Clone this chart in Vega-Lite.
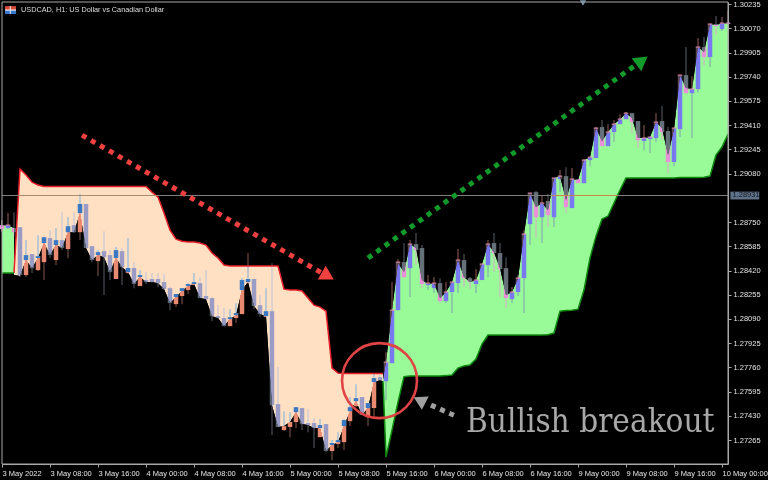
{"$schema":"https://vega.github.io/schema/vega-lite/v6.json","width":726,"height":462,"autosize":{"type":"none"},"padding":{"left":2,"top":2,"right":40,"bottom":16},"background":"#000000","config":{"view":{"stroke":null},"axis":{"grid":false,"domainColor":"#a8a8a8","tickColor":"#a8a8a8","tickSize":3,"labelColor":"#e4e4e4","labelFont":"Liberation Sans","labelFontSize":7.5,"labelOverlap":false,"labelBound":false,"labelFlush":false}},"datasets":{"candles":[
{"i":0,"kind":"bear-g","high":1.28763,"low":1.28681,"open":1.28729,"close":1.28702},
{"i":1,"kind":"bull-g","high":1.28811,"low":1.28702,"open":1.28709,"close":1.28729},
{"i":2,"kind":"bear-g","high":1.28817,"low":1.28654,"open":1.28709,"close":1.28681},
{"i":3,"kind":"bear-p","high":1.28715,"low":1.28375,"open":1.28715,"close":1.28389},
{"i":4,"kind":"bull-p","high":1.28627,"low":1.28375,"open":1.28389,"close":1.28525,"tip":1.28491},
{"i":5,"kind":"bear-p","high":1.28532,"low":1.28403,"open":1.28532,"close":1.28436},
{"i":6,"kind":"bull-p","high":1.28661,"low":1.28416,"open":1.28423,"close":1.28518,"tip":1.28505},
{"i":7,"kind":"bull-p","high":1.28647,"low":1.28355,"open":1.28477,"close":1.28647,"tip":1.28607},
{"i":8,"kind":"bear-p","high":1.28695,"low":1.28505,"open":1.28641,"close":1.28525},
{"i":9,"kind":"bull-p","high":1.28709,"low":1.28457,"open":1.28491,"close":1.28627,"tip":1.28593},
{"i":10,"kind":"bear-p","high":1.28817,"low":1.28559,"open":1.28627,"close":1.28573},
{"i":11,"kind":"bull-p","high":1.28783,"low":1.28505,"open":1.28566,"close":1.28722,"tip":1.28681},
{"i":12,"kind":"bear-p","high":1.28817,"low":1.28675,"open":1.28729,"close":1.28681},
{"i":13,"kind":"bull-p","high":1.28941,"low":1.28627,"open":1.28681,"close":1.28873,"tip":1.28811},
{"i":14,"kind":"bear-p","high":1.28873,"low":1.28573,"open":1.28873,"close":1.28573},
{"i":15,"kind":"bear-p","high":1.28586,"low":1.28477,"open":1.28586,"close":1.28491},
{"i":16,"kind":"bull-p","high":1.28559,"low":1.28382,"open":1.28484,"close":1.28545,"tip":1.28525},
{"i":17,"kind":"bear-p","high":1.28688,"low":1.28253,"open":1.28552,"close":1.28511},
{"i":18,"kind":"bear-p","high":1.28559,"low":1.28355,"open":1.28525,"close":1.28409},
{"i":19,"kind":"bull-p","high":1.2858,"low":1.28362,"open":1.28362,"close":1.28559,"tip":1.28505},
{"i":20,"kind":"bear-p","high":1.28573,"low":1.28321,"open":1.28552,"close":1.28443},
{"i":21,"kind":"bull-p","high":1.28641,"low":1.28396,"open":1.28403,"close":1.28437,"tip":1.28409},
{"i":22,"kind":"bear-p","high":1.28477,"low":1.283,"open":1.28437,"close":1.28328},
{"i":23,"kind":"bull-p","high":1.28423,"low":1.28314,"open":1.28314,"close":1.28389,"tip":1.28375},
{"i":24,"kind":"bear-p","high":1.28409,"low":1.28328,"open":1.28355,"close":1.28341},
{"i":25,"kind":"bear-p","high":1.28403,"low":1.28341,"open":1.28362,"close":1.28341},
{"i":26,"kind":"bear-p","high":1.28403,"low":1.28307,"open":1.28362,"close":1.28334},
{"i":27,"kind":"bear-p","high":1.28396,"low":1.28287,"open":1.28341,"close":1.28294},
{"i":28,"kind":"bear-p","high":1.28307,"low":1.2815,"open":1.283,"close":1.28198},
{"i":29,"kind":"bull-p","high":1.2826,"low":1.28171,"open":1.28191,"close":1.2826,"tip":1.28239},
{"i":30,"kind":"bull-p","high":1.283,"low":1.28191,"open":1.28246,"close":1.283,"tip":1.2828},
{"i":31,"kind":"bull-p","high":1.28334,"low":1.2826,"open":1.28287,"close":1.28328,"tip":1.28314},
{"i":32,"kind":"bull-p","high":1.28403,"low":1.28321,"open":1.28321,"close":1.28341,"tip":1.28328},
{"i":33,"kind":"bear-p","high":1.28375,"low":1.28232,"open":1.28334,"close":1.28232},
{"i":34,"kind":"bear-p","high":1.28423,"low":1.28225,"open":1.28246,"close":1.28225},
{"i":35,"kind":"bear-p","high":1.28239,"low":1.28075,"open":1.28232,"close":1.28109},
{"i":36,"kind":"bear-p","high":1.28184,"low":1.28096,"open":1.28109,"close":1.28096},
{"i":37,"kind":"bear-p","high":1.28164,"low":1.28041,"open":1.28096,"close":1.28041},
{"i":38,"kind":"bull-p","high":1.28157,"low":1.28041,"open":1.28041,"close":1.28102,"tip":1.28089},
{"i":39,"kind":"bull-p","high":1.28198,"low":1.28062,"open":1.28096,"close":1.2813,"tip":1.28116},
{"i":40,"kind":"bull-p","high":1.28368,"low":1.28123,"open":1.28123,"close":1.28355,"tip":1.28287},
{"i":41,"kind":"bull-p","high":1.28539,"low":1.28334,"open":1.28334,"close":1.28362,"tip":1.28341},
{"i":42,"kind":"bear-p","high":1.28362,"low":1.28157,"open":1.28362,"close":1.28178},
{"i":43,"kind":"bear-p","high":1.28253,"low":1.28103,"open":1.28184,"close":1.28123},
{"i":44,"kind":"bull-p","high":1.283,"low":1.28103,"open":1.28103,"close":1.28143,"tip":1.28109},
{"i":45,"kind":"bear-p","high":1.2847,"low":1.27299,"open":1.28143,"close":1.27503},
{"i":46,"kind":"bear-p","high":1.27762,"low":1.27354,"open":1.2751,"close":1.27354},
{"i":47,"kind":"bull-p","high":1.27462,"low":1.27326,"open":1.27333,"close":1.2736,"tip":1.2736},
{"i":48,"kind":"bull-p","high":1.27455,"low":1.27285,"open":1.27354,"close":1.27388,"tip":1.27388},
{"i":49,"kind":"bull-p","high":1.27489,"low":1.27347,"open":1.27388,"close":1.27489,"tip":1.27455},
{"i":50,"kind":"bear-p","high":1.27483,"low":1.27333,"open":1.27483,"close":1.27374},
{"i":51,"kind":"bear-p","high":1.27476,"low":1.27319,"open":1.27381,"close":1.27367},
{"i":52,"kind":"bear-p","high":1.27415,"low":1.27211,"open":1.27381,"close":1.27347},
{"i":53,"kind":"bull-p","high":1.27408,"low":1.27285,"open":1.27285,"close":1.27367,"tip":1.27347},
{"i":54,"kind":"bear-p","high":1.27374,"low":1.27183,"open":1.27374,"close":1.2719},
{"i":55,"kind":"bull-p","high":1.27265,"low":1.27128,"open":1.2719,"close":1.27245,"tip":1.27231},
{"i":56,"kind":"bull-p","high":1.27319,"low":1.27211,"open":1.27238,"close":1.27265,"tip":1.27251},
{"i":57,"kind":"bull-p","high":1.27408,"low":1.27197,"open":1.27251,"close":1.27401,"tip":1.2736},
{"i":58,"kind":"bull-p","high":1.27558,"low":1.2736,"open":1.27394,"close":1.27489,"tip":1.27462},
{"i":59,"kind":"bull-p","high":1.27646,"low":1.27489,"open":1.27496,"close":1.27551,"tip":1.2753},
{"i":60,"kind":"bear-p","high":1.27558,"low":1.27435,"open":1.27558,"close":1.27435},
{"i":61,"kind":"bull-p","high":1.27517,"low":1.2736,"open":1.27421,"close":1.27517,"tip":1.27483},
{"i":62,"kind":"bull-p","high":1.27715,"low":1.27415,"open":1.27483,"close":1.27687,"tip":1.2766},
{"i":63,"kind":"bear-p","high":1.27708,"low":1.27673,"open":1.27694,"close":1.27673},
{"i":64,"kind":"bull-g","high":1.27864,"low":1.27537,"open":1.27666,"close":1.27796},
{"i":65,"kind":"bull-g","high":1.28341,"low":1.27789,"open":1.27789,"close":1.2815},
{"i":66,"kind":"bull-g","high":1.28498,"low":1.2815,"open":1.2815,"close":1.28477},
{"i":67,"kind":"bear-g","high":1.28607,"low":1.28368,"open":1.28477,"close":1.28375},
{"i":68,"kind":"bull-g","high":1.28627,"low":1.28239,"open":1.28436,"close":1.286},
{"i":69,"kind":"bear-g","high":1.28675,"low":1.28457,"open":1.286,"close":1.28559},
{"i":70,"kind":"bear-g","high":1.28593,"low":1.283,"open":1.28573,"close":1.28328},
{"i":71,"kind":"bull-g","high":1.28389,"low":1.28287,"open":1.28321,"close":1.28334},
{"i":72,"kind":"bull-g","high":1.28375,"low":1.28266,"open":1.283,"close":1.28334},
{"i":73,"kind":"bear-g","high":1.28368,"low":1.28198,"open":1.28334,"close":1.28212},
{"i":74,"kind":"bull-g","high":1.28341,"low":1.28198,"open":1.28212,"close":1.28273},
{"i":75,"kind":"bull-g","high":1.28341,"low":1.2813,"open":1.28273,"close":1.28341},
{"i":76,"kind":"bull-g","high":1.28566,"low":1.28266,"open":1.28334,"close":1.28491},
{"i":77,"kind":"bear-g","high":1.28532,"low":1.28307,"open":1.28491,"close":1.28368},
{"i":78,"kind":"bear-g","high":1.28375,"low":1.28294,"open":1.28368,"close":1.28341},
{"i":79,"kind":"bull-g","high":1.2843,"low":1.28266,"open":1.28328,"close":1.28355},
{"i":80,"kind":"bull-g","high":1.28464,"low":1.28355,"open":1.28355,"close":1.28464},
{"i":81,"kind":"bull-g","high":1.28627,"low":1.28375,"open":1.28457,"close":1.286},
{"i":82,"kind":"bear-g","high":1.28675,"low":1.28409,"open":1.28607,"close":1.28539},
{"i":83,"kind":"bear-g","high":1.28607,"low":1.28239,"open":1.28539,"close":1.2843},
{"i":84,"kind":"bear-g","high":1.28511,"low":1.28164,"open":1.28436,"close":1.28232},
{"i":85,"kind":"bull-g","high":1.28307,"low":1.28198,"open":1.28225,"close":1.28273},
{"i":86,"kind":"bull-g","high":1.28389,"low":1.28246,"open":1.28273,"close":1.28368},
{"i":87,"kind":"bull-g","high":1.28695,"low":1.2813,"open":1.28368,"close":1.28668},
{"i":88,"kind":"bull-g","high":1.28947,"low":1.28593,"open":1.28736,"close":1.28947},
{"i":89,"kind":"bear-g","high":1.28961,"low":1.28647,"open":1.28954,"close":1.28783},
{"i":90,"kind":"bull-g","high":1.28927,"low":1.28607,"open":1.28783,"close":1.2888},
{"i":91,"kind":"bear-g","high":1.28941,"low":1.28716,"open":1.28893,"close":1.28797},
{"i":92,"kind":"bull-g","high":1.2905,"low":1.28716,"open":1.28783,"close":1.2905},
{"i":93,"kind":"bull-g","high":1.29104,"low":1.28954,"open":1.29043,"close":1.29063},
{"i":94,"kind":"bear-g","high":1.29124,"low":1.28811,"open":1.29063,"close":1.28852},
{"i":95,"kind":"bull-g","high":1.29118,"low":1.28845,"open":1.28845,"close":1.29043},
{"i":96,"kind":"bear-g","high":1.29043,"low":1.29015,"open":1.29043,"close":1.29015},
{"i":97,"kind":"bull-g","high":1.29179,"low":1.29015,"open":1.29015,"close":1.29172},
{"i":98,"kind":"bull-g","high":1.29192,"low":1.29131,"open":1.29172,"close":1.29192},
{"i":99,"kind":"bull-g","high":1.29397,"low":1.29186,"open":1.29186,"close":1.2939},
{"i":100,"kind":"bear-g","high":1.29445,"low":1.29267,"open":1.29397,"close":1.29267},
{"i":101,"kind":"bull-g","high":1.29417,"low":1.29267,"open":1.29267,"close":1.29363},
{"i":102,"kind":"bull-g","high":1.29445,"low":1.29295,"open":1.29363,"close":1.29417},
{"i":103,"kind":"bull-g","high":1.29485,"low":1.29417,"open":1.29417,"close":1.29451},
{"i":104,"kind":"bull-g","high":1.29499,"low":1.29451,"open":1.29451,"close":1.29492},
{"i":105,"kind":"bear-g","high":1.29492,"low":1.29356,"open":1.29492,"close":1.29431},
{"i":106,"kind":"bear-g","high":1.29438,"low":1.29254,"open":1.29438,"close":1.29308},
{"i":107,"kind":"bull-g","high":1.29411,"low":1.2924,"open":1.29302,"close":1.29322},
{"i":108,"kind":"bull-g","high":1.29329,"low":1.2922,"open":1.29315,"close":1.29329},
{"i":109,"kind":"bull-g","high":1.29492,"low":1.29295,"open":1.29322,"close":1.29431},
{"i":110,"kind":"bear-g","high":1.2954,"low":1.29308,"open":1.29438,"close":1.29363},
{"i":111,"kind":"bear-g","high":1.29397,"low":1.29084,"open":1.2937,"close":1.29159},
{"i":112,"kind":"bull-g","high":1.2939,"low":1.29131,"open":1.29159,"close":1.2939},
{"i":113,"kind":"bull-g","high":1.29751,"low":1.29329,"open":1.29383,"close":1.29751},
{"i":114,"kind":"bear-g","high":1.29942,"low":1.29628,"open":1.29751,"close":1.29628},
{"i":115,"kind":"bull-g","high":1.29744,"low":1.29322,"open":1.29628,"close":1.29656},
{"i":116,"kind":"bull-g","high":1.30003,"low":1.29635,"open":1.29656,"close":1.29942},
{"i":117,"kind":"bear-g","high":1.3001,"low":1.29819,"open":1.29942,"close":1.29874},
{"i":118,"kind":"bull-g","high":1.30099,"low":1.29806,"open":1.29874,"close":1.30099},
{"i":119,"kind":"bear-g","high":1.30153,"low":1.30024,"open":1.30099,"close":1.30085},
{"i":120,"kind":"bull-g","high":1.30146,"low":1.30051,"open":1.30064,"close":1.30105},
{"i":121,"kind":"bull-g","high":1.30187,"low":1.30099,"open":1.30099,"close":1.30105}
],"cloud":[
{"i":0,"zone":"g","run":"a","stop":1.28403,"curve":1.28729},{"i":1,"zone":"g","run":"a","stop":1.28403,"curve":1.28729},{"i":2,"zone":"g","run":"a","stop":1.28403,"curve":1.28709},
{"i":2,"zone":"p","stop":1.28403,"curve":1.28389},{"i":3,"zone":"p","stop":1.29111,"curve":1.28382},{"i":4,"zone":"p","stop":1.2907,"curve":1.28491},{"i":5,"zone":"p","stop":1.29022,"curve":1.28436},{"i":6,"zone":"p","stop":1.29002,"curve":1.28505},{"i":7,"zone":"p","stop":1.28992,"curve":1.28607},{"i":8,"zone":"p","stop":1.28992,"curve":1.28525},{"i":9,"zone":"p","stop":1.28992,"curve":1.28593},{"i":10,"zone":"p","stop":1.28992,"curve":1.28573},{"i":11,"zone":"p","stop":1.28992,"curve":1.28681},{"i":12,"zone":"p","stop":1.28992,"curve":1.28681},{"i":13,"zone":"p","stop":1.28992,"curve":1.28811},{"i":14,"zone":"p","stop":1.28992,"curve":1.28573},{"i":15,"zone":"p","stop":1.28992,"curve":1.28491},{"i":16,"zone":"p","stop":1.28992,"curve":1.28525},{"i":17,"zone":"p","stop":1.28992,"curve":1.28511},{"i":18,"zone":"p","stop":1.28992,"curve":1.28409},{"i":19,"zone":"p","stop":1.28992,"curve":1.28505},{"i":20,"zone":"p","stop":1.28992,"curve":1.28443},{"i":21,"zone":"p","stop":1.28992,"curve":1.28409},{"i":22,"zone":"p","stop":1.28992,"curve":1.28328},{"i":23,"zone":"p","stop":1.28992,"curve":1.28375},{"i":24,"zone":"p","stop":1.28992,"curve":1.28341},{"i":25,"zone":"p","stop":1.28954,"curve":1.28341},{"i":26,"zone":"p","stop":1.2892,"curve":1.28334},{"i":27,"zone":"p","stop":1.28811,"curve":1.28294},{"i":28,"zone":"p","stop":1.28695,"curve":1.28198},{"i":29,"zone":"p","stop":1.28634,"curve":1.28239},{"i":30,"zone":"p","stop":1.2862,"curve":1.2828},{"i":31,"zone":"p","stop":1.28614,"curve":1.28314},{"i":32,"zone":"p","stop":1.28614,"curve":1.28328},{"i":33,"zone":"p","stop":1.28607,"curve":1.28232},{"i":34,"zone":"p","stop":1.28593,"curve":1.28225},{"i":35,"zone":"p","stop":1.28539,"curve":1.28109},{"i":36,"zone":"p","stop":1.28505,"curve":1.28096},{"i":37,"zone":"p","stop":1.28457,"curve":1.28041},{"i":38,"zone":"p","stop":1.2845,"curve":1.28089},{"i":39,"zone":"p","stop":1.2845,"curve":1.28116},{"i":40,"zone":"p","stop":1.2845,"curve":1.28287},{"i":41,"zone":"p","stop":1.2845,"curve":1.28341},{"i":42,"zone":"p","stop":1.2845,"curve":1.28178},{"i":43,"zone":"p","stop":1.2845,"curve":1.28123},{"i":44,"zone":"p","stop":1.2845,"curve":1.28109},{"i":45,"zone":"p","stop":1.2845,"curve":1.27503},{"i":46,"zone":"p","stop":1.2845,"curve":1.27354},{"i":47,"zone":"p","stop":1.28293,"curve":1.2736},{"i":48,"zone":"p","stop":1.28287,"curve":1.27388},{"i":49,"zone":"p","stop":1.28287,"curve":1.27455},{"i":50,"zone":"p","stop":1.2828,"curve":1.27374},{"i":51,"zone":"p","stop":1.28232,"curve":1.27367},{"i":52,"zone":"p","stop":1.28184,"curve":1.27347},{"i":53,"zone":"p","stop":1.28171,"curve":1.27347},{"i":54,"zone":"p","stop":1.28143,"curve":1.2719},{"i":55,"zone":"p","stop":1.27755,"curve":1.27231},{"i":56,"zone":"p","stop":1.27721,"curve":1.27251},{"i":57,"zone":"p","stop":1.27718,"curve":1.2736},{"i":58,"zone":"p","stop":1.27718,"curve":1.27462},{"i":59,"zone":"p","stop":1.27718,"curve":1.2753},{"i":60,"zone":"p","stop":1.27718,"curve":1.27435},{"i":61,"zone":"p","stop":1.27718,"curve":1.27483},{"i":62,"zone":"p","stop":1.27718,"curve":1.2766},{"i":63,"zone":"p","stop":1.27718,"curve":1.27673},{"i":63.5,"zone":"p","stop":1.27718,"curve":1.27666},
{"i":63.5,"zone":"g","run":"b","stop":1.27666,"curve":1.2768},{"i":64,"zone":"g","run":"b","stop":1.27149,"curve":1.27796},{"i":65,"zone":"g","run":"b","stop":1.27333,"curve":1.2815},{"i":66,"zone":"g","run":"b","stop":1.27524,"curve":1.2847},{"i":67,"zone":"g","run":"b","stop":1.27697,"curve":1.28409},{"i":68,"zone":"g","run":"b","stop":1.27701,"curve":1.286},{"i":69,"zone":"g","run":"b","stop":1.27701,"curve":1.28573},{"i":70,"zone":"g","run":"b","stop":1.27701,"curve":1.28355},{"i":71,"zone":"g","run":"b","stop":1.27701,"curve":1.28328},{"i":72,"zone":"g","run":"b","stop":1.27701,"curve":1.28334},{"i":73,"zone":"g","run":"b","stop":1.27701,"curve":1.28232},{"i":74,"zone":"g","run":"b","stop":1.27704,"curve":1.28273},{"i":75,"zone":"g","run":"b","stop":1.27708,"curve":1.28341},{"i":76,"zone":"g","run":"b","stop":1.27755,"curve":1.28491},{"i":77,"zone":"g","run":"b","stop":1.27769,"curve":1.28375},{"i":78,"zone":"g","run":"b","stop":1.27776,"curve":1.28341},{"i":79,"zone":"g","run":"b","stop":1.27817,"curve":1.28355},{"i":80,"zone":"g","run":"b","stop":1.27919,"curve":1.28464},{"i":81,"zone":"g","run":"b","stop":1.2798,"curve":1.286},{"i":82,"zone":"g","run":"b","stop":1.2798,"curve":1.28545},{"i":83,"zone":"g","run":"b","stop":1.2798,"curve":1.28436},{"i":84,"zone":"g","run":"b","stop":1.2798,"curve":1.28253},{"i":85,"zone":"g","run":"b","stop":1.2798,"curve":1.28273},{"i":86,"zone":"g","run":"b","stop":1.2798,"curve":1.28368},{"i":87,"zone":"g","run":"b","stop":1.2798,"curve":1.28668},{"i":88,"zone":"g","run":"b","stop":1.2798,"curve":1.28947},{"i":89,"zone":"g","run":"b","stop":1.2798,"curve":1.28852},{"i":90,"zone":"g","run":"b","stop":1.2798,"curve":1.2888},{"i":91,"zone":"g","run":"b","stop":1.27983,"curve":1.28831},{"i":92,"zone":"g","run":"b","stop":1.27994,"curve":1.2905},{"i":93,"zone":"g","run":"b","stop":1.28143,"curve":1.29063},{"i":94,"zone":"g","run":"b","stop":1.28147,"curve":1.289},{"i":95,"zone":"g","run":"b","stop":1.2815,"curve":1.29043},{"i":96,"zone":"g","run":"b","stop":1.28157,"curve":1.29036},{"i":97,"zone":"g","run":"b","stop":1.28287,"curve":1.29172},{"i":98,"zone":"g","run":"b","stop":1.28505,"curve":1.29192},{"i":99,"zone":"g","run":"b","stop":1.28654,"curve":1.2939},{"i":100,"zone":"g","run":"b","stop":1.2877,"curve":1.29302},{"i":101,"zone":"g","run":"b","stop":1.28791,"curve":1.29363},{"i":102,"zone":"g","run":"b","stop":1.2888,"curve":1.29417},{"i":103,"zone":"g","run":"b","stop":1.28968,"curve":1.29451},{"i":104,"zone":"g","run":"b","stop":1.2905,"curve":1.29492},{"i":105,"zone":"g","run":"b","stop":1.2905,"curve":1.29458},{"i":106,"zone":"g","run":"b","stop":1.2905,"curve":1.29322},{"i":107,"zone":"g","run":"b","stop":1.2905,"curve":1.29322},{"i":108,"zone":"g","run":"b","stop":1.2905,"curve":1.29329},{"i":109,"zone":"g","run":"b","stop":1.2905,"curve":1.29431},{"i":110,"zone":"g","run":"b","stop":1.2905,"curve":1.2939},{"i":111,"zone":"g","run":"b","stop":1.2905,"curve":1.29206},{"i":112,"zone":"g","run":"b","stop":1.2905,"curve":1.29383},{"i":113,"zone":"g","run":"b","stop":1.29053,"curve":1.29751},{"i":114,"zone":"g","run":"b","stop":1.29053,"curve":1.29663},{"i":115,"zone":"g","run":"b","stop":1.29053,"curve":1.29656},{"i":116,"zone":"g","run":"b","stop":1.29053,"curve":1.29942},{"i":117,"zone":"g","run":"b","stop":1.29056,"curve":1.29908},{"i":118,"zone":"g","run":"b","stop":1.29063,"curve":1.30099},{"i":119,"zone":"g","run":"b","stop":1.29206,"curve":1.30092},{"i":120,"zone":"g","run":"b","stop":1.29261,"curve":1.30105},{"i":121,"zone":"g","run":"b","stop":1.29349,"curve":1.30105}
],"arrows":[
{"i":13.33,"p":1.29342,"arrow":"red"},{"i":53.33,"p":1.28402,"arrow":"red"},
{"i":61,"p":1.28505,"arrow":"green"},{"i":105.33,"p":1.29812,"arrow":"green"},
{"i":75.67,"p":1.27428,"arrow":"gray"},{"i":71.5,"p":1.27503,"arrow":"gray"}
]},"layer":[
{"data":{"name":"cloud"},"transform":[{"filter":"datum.zone==='p'"}],"mark":{"type":"area","color":"#ffe0c2"},"encoding":{"x":{"field":"i","type":"quantitative","title":null,"scale":{"domain":[0,121],"nice":false,"zero":false},"axis":{"orient":"bottom","tickCount":30,"values":[0,8,16,24,32,40,48,56,64,72,80,88,96,104,112,120],"labelExpr":"['3 May 2022','3 May 08:00','3 May 16:00','4 May 00:00','4 May 08:00','4 May 16:00','5 May 00:00','5 May 08:00','5 May 16:00','6 May 00:00','6 May 08:00','6 May 16:00','9 May 00:00','9 May 08:00','9 May 16:00','10 May 00:00'][datum.value/8]","labelAlign":"left","labelOverlap":false,"labelBound":false,"labelFlush":false,"labelPadding":2}},"y":{"field":"stop","type":"quantitative","title":null,"scale":{"domain":[1.27102,1.30249],"nice":false,"zero":false},"axis":{"orient":"right","tickCount":30,"values":[1.30235,1.3007,1.29905,1.2974,1.29575,1.2941,1.29245,1.2908,1.2875,1.28585,1.2842,1.28255,1.2809,1.27925,1.2776,1.27595,1.2743,1.27265],"format":".5f","labelPadding":2,"labelOverlap":false,"labelBound":false,"labelFlush":false}},"y2":{"field":"curve"}}},
{"data":{"name":"cloud"},"transform":[{"filter":"datum.zone==='g'"}],"mark":{"type":"area","color":"#98fb98"},"encoding":{"x":{"field":"i","type":"quantitative"},"y":{"field":"stop","type":"quantitative"},"y2":{"field":"curve"},"detail":{"field":"run"}}},
{"data":{"name":"candles"},"mark":{"type":"rule","strokeWidth":1.2},"encoding":{"x":{"field":"i","type":"quantitative"},"y":{"field":"low","type":"quantitative"},"y2":{"field":"high"},"color":{"field":"kind","type":"nominal","legend":null,"scale":{"domain":["bull-p","bear-p","bull-g","bear-g"],"range":["#8fb9dc","#c6c6da","#84aeb0","#d2b6c4"]}}}},
{"data":{"name":"candles"},"transform":[{"filter":"datum.kind!=='bull-p'"}],"mark":{"type":"rule","strokeWidth":4.5},"encoding":{"x":{"field":"i","type":"quantitative"},"y":{"field":"open","type":"quantitative"},"y2":{"field":"close"},"color":{"field":"kind","type":"nominal","legend":null,"scale":{"domain":["bear-p","bull-g","bear-g"],"range":["#9a9cc6","#7878f0","#e890d8"]}}}},
{"data":{"name":"cloud"},"transform":[{"filter":"datum.zone==='p'"}],"mark":{"type":"area","color":"#000000"},"encoding":{"x":{"field":"i","type":"quantitative"},"y":{"field":"stop","type":"quantitative"},"y2":{"datum":1.30249}}},
{"data":{"name":"cloud"},"transform":[{"filter":"datum.zone==='p'"}],"mark":{"type":"area","color":"#000000"},"encoding":{"x":{"field":"i","type":"quantitative"},"y":{"field":"curve","type":"quantitative"},"y2":{"datum":1.27102}}},
{"data":{"name":"cloud"},"transform":[{"filter":"datum.zone==='g'"}],"mark":{"type":"area","color":"#000000"},"encoding":{"x":{"field":"i","type":"quantitative"},"y":{"field":"curve","type":"quantitative"},"y2":{"datum":1.30249},"detail":{"field":"run"}}},
{"data":{"name":"cloud"},"transform":[{"filter":"datum.zone==='g'"}],"mark":{"type":"area","color":"#000000"},"encoding":{"x":{"field":"i","type":"quantitative"},"y":{"field":"stop","type":"quantitative"},"y2":{"datum":1.27102},"detail":{"field":"run"}}},
{"data":{"name":"candles"},"mark":{"type":"rule","strokeWidth":1.2,"blend":"lighten"},"encoding":{"x":{"field":"i","type":"quantitative"},"y":{"field":"low","type":"quantitative"},"y2":{"field":"high"},"color":{"field":"kind","type":"nominal","legend":null,"scale":{"domain":["bull-p","bear-p","bull-g","bear-g"],"range":["#6e4a40","#4a4e58","#7a5048","#4a5058"]}}}},
{"data":{"name":"candles"},"mark":{"type":"rule","strokeWidth":4.5,"blend":"lighten"},"encoding":{"x":{"field":"i","type":"quantitative"},"y":{"field":"open","type":"quantitative"},"y2":{"field":"close"},"color":{"field":"kind","type":"nominal","legend":null,"scale":{"domain":["bull-p","bear-p","bull-g","bear-g"],"range":["#e88b72","#5a6470","#5a4a50","#667078"]}}}},
{"data":{"name":"candles"},"transform":[{"filter":"datum.kind==='bull-p'"}],"mark":{"type":"rule","strokeWidth":4.5,"color":"#3a78c4"},"encoding":{"x":{"field":"i","type":"quantitative"},"y":{"field":"close","type":"quantitative"},"y2":{"field":"tip"}}},
{"data":{"name":"candles"},"transform":[{"filter":"datum.kind==='bull-g'"}],"mark":{"type":"tick","orient":"horizontal","size":4.5,"thickness":1.5,"color":"#e890b0"},"encoding":{"x":{"field":"i","type":"quantitative"},"y":{"field":"close","type":"quantitative"}}},
{"data":{"name":"cloud"},"transform":[{"filter":"datum.zone==='p'"}],"mark":{"type":"line","color":"#e8202a","strokeWidth":1.5},"encoding":{"x":{"field":"i","type":"quantitative"},"y":{"field":"stop","type":"quantitative"}}},
{"data":{"name":"cloud"},"transform":[{"filter":"datum.zone==='g'"}],"mark":{"type":"line","color":"#0f8a0f","strokeWidth":1.5},"encoding":{"x":{"field":"i","type":"quantitative"},"y":{"field":"stop","type":"quantitative"},"detail":{"field":"run"}}},
{"data":{"values":[{"i":0,"i2":121,"p":1.28931,"seg":"base"},{"i":2.7,"i2":25.9,"p":1.28931,"seg":"peach"},{"i":91.6,"i2":102.5,"p":1.28931,"seg":"green"}]},"mark":{"type":"rule","strokeWidth":1},"encoding":{"x":{"field":"i","type":"quantitative"},"x2":{"field":"i2"},"y":{"field":"p","type":"quantitative"},"color":{"field":"seg","type":"nominal","legend":null,"scale":{"domain":["base","peach","green"],"range":["#808080","#b08c70","#cc8844"]}}}},
{"data":{"values":[{"i":0},{"i":121}]},"mark":{"type":"rule","color":"#a8a8a8","strokeWidth":1},"encoding":{"x":{"field":"i","type":"quantitative"}}},
{"data":{"values":[{"p":1.30249},{"p":1.27102}]},"mark":{"type":"rule","color":"#a8a8a8","strokeWidth":1},"encoding":{"y":{"field":"p","type":"quantitative"}}},
{"data":{"name":"arrows"},"transform":[{"filter":"datum.arrow==='red'"}],"mark":{"type":"line","color":"#f04040","strokeWidth":5,"strokeDash":[5,5.4]},"encoding":{"x":{"field":"i","type":"quantitative"},"y":{"field":"p","type":"quantitative"}}},
{"data":{"name":"arrows"},"transform":[{"filter":"datum.arrow==='green'"}],"mark":{"type":"line","color":"#129a2a","strokeWidth":5,"strokeDash":[5,5.4]},"encoding":{"x":{"field":"i","type":"quantitative"},"y":{"field":"p","type":"quantitative"}}},
{"data":{"name":"arrows"},"transform":[{"filter":"datum.arrow==='gray'"}],"mark":{"type":"line","color":"#a0a0a0","strokeWidth":5,"strokeDash":[5,5]},"encoding":{"x":{"field":"i","type":"quantitative"},"y":{"field":"p","type":"quantitative"}}},
{"data":{"values":[{"i":54.29,"p":1.28382}]},"mark":{"type":"point","shape":"triangle-up","filled":true,"opacity":1,"color":"#f04040","size":256,"angle":120},"encoding":{"x":{"field":"i","type":"quantitative"},"y":{"field":"p","type":"quantitative"}}},
{"data":{"values":[{"i":106.67,"p":1.2985}]},"mark":{"type":"point","shape":"triangle-up","filled":true,"opacity":1,"color":"#129a2a","size":256,"angle":53},"encoding":{"x":{"field":"i","type":"quantitative"},"y":{"field":"p","type":"quantitative"}}},
{"data":{"values":[{"i":69.58,"p":1.27537}]},"mark":{"type":"point","shape":"triangle-up","filled":true,"opacity":1,"color":"#a0a0a0","size":225,"angle":297},"encoding":{"x":{"field":"i","type":"quantitative"},"y":{"field":"p","type":"quantitative"}}},
{"data":{"values":[{"i":62.92,"p":1.2767}]},"mark":{"type":"point","shape":"circle","filled":false,"opacity":1,"color":"#e04444","strokeWidth":2.6,"size":5625},"encoding":{"x":{"field":"i","type":"quantitative"},"y":{"field":"p","type":"quantitative"}}},
{"data":{"values":[{"i":96.83,"p":1.30242}]},"mark":{"type":"point","shape":"triangle-down","filled":true,"opacity":1,"color":"#8296aa","size":40},"encoding":{"x":{"field":"i","type":"quantitative"},"y":{"field":"p","type":"quantitative"}}},
{"data":{"values":[{"i":77.33,"p":1.27319,"t":"Bullish breakout"}]},"mark":{"type":"text","align":"left","baseline":"alphabetic","font":"DejaVu Serif Condensed","fontSize":33,"color":"#a8a8a8"},"encoding":{"x":{"field":"i","type":"quantitative"},"y":{"field":"p","type":"quantitative"},"text":{"field":"t"}}},
{"data":{"values":[{"i":3.17,"p":1.30194,"t":"USDCAD, H1:  US Dollar vs Canadian Dollar"}]},"mark":{"type":"text","align":"left","baseline":"middle","font":"Liberation Sans","fontSize":7.3,"color":"#dcdcdc"},"encoding":{"x":{"field":"i","type":"quantitative"},"y":{"field":"p","type":"quantitative"},"text":{"field":"t"}}},
{"data":{"values":[{"i":0.5,"i2":2.33,"p":1.30221,"p2":1.30194,"part":"a"},{"i":0.5,"i2":2.33,"p":1.30194,"p2":1.30167,"part":"b"},{"i":1.3,"i2":1.45,"p":1.30221,"p2":1.30167,"part":"c"},{"i":0.5,"i2":2.33,"p":1.30198,"p2":1.3019,"part":"c"}]},"mark":{"type":"rect"},"encoding":{"x":{"field":"i","type":"quantitative"},"x2":{"field":"i2"},"y":{"field":"p","type":"quantitative"},"y2":{"field":"p2"},"color":{"field":"part","type":"nominal","legend":null,"scale":{"domain":["a","b","c"],"range":["#d84a3c","#3a78d0","#f0f0f0"]}}}},
{"data":{"values":[{"i":121.4,"i2":126.2,"p":1.28957,"p2":1.28904}]},"mark":{"type":"rect","color":"#5f7188"},"encoding":{"x":{"field":"i","type":"quantitative"},"x2":{"field":"i2"},"y":{"field":"p","type":"quantitative"},"y2":{"field":"p2"}}},
{"data":{"values":[{"i":121.75,"p":1.28931,"t":"1.28931"}]},"mark":{"type":"text","align":"left","baseline":"middle","font":"Liberation Sans","fontSize":7.5,"color":"#10161c"},"encoding":{"x":{"field":"i","type":"quantitative"},"y":{"field":"p","type":"quantitative"},"text":{"field":"t"}}}
],"resolve":{"scale":{"color":"independent"}}}
